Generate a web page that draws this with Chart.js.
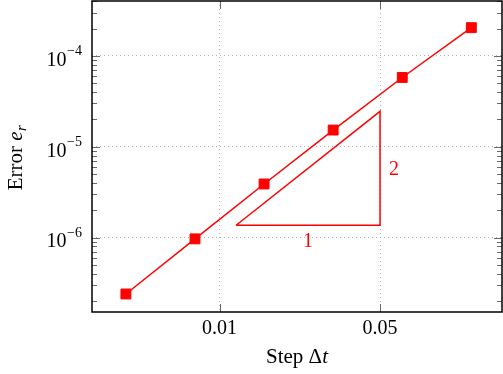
<!DOCTYPE html>
<html>
<head>
<meta charset="utf-8">
<script src="https://cdn.jsdelivr.net/npm/chart.js@4/dist/chart.umd.min.js"></script>
<style>
  html, body { margin: 0; padding: 0; background: #fff; }
  canvas { display: block; }
</style>
</head>
<body>
<canvas id="errorChart" width="503" height="374"></canvas>
<script>
// --- data ---
const stepSizes = [0.00390625, 0.0078125, 0.015625, 0.03125, 0.0625, 0.125];
const errors = [2.4e-7, 9.7e-7, 3.9e-6, 1.53e-5, 5.8e-5, 2.05e-4];

const xTicks = [0.01, 0.05];
const xTickLabels = ['0.01', '0.05'];
const yTicks = [1e-6, 1e-5, 1e-4];
const yTickExponents = ['\u22126', '\u22125', '\u22124'];

// slope triangle corners (order 2)
const slopeX = [0.0118, 0.05];
const slopeY = [1.37e-6, 2.46e-5];
const slopeLabels = ['1', '2'];

const RED = '#ff0000';
const SERIF = '"Liberation Serif", "DejaVu Serif", serif';

const xRange = [0.00278, 0.170];
const yRange = [1.52e-7, 4.03e-4];

function minorTicks(min, max) {
    const out = [];
    for (let e = Math.floor(Math.log10(min)); e <= Math.ceil(Math.log10(max)); e++) {
        for (let m = 1; m <= 9; m++) {
            const v = m * Math.pow(10, e);
            if (v >= min && v <= max) out.push({ v, major: m === 1 });
        }
    }
    return out;
}

const framePlugin = {
    id: 'frame',
    afterDraw(chart) {
        const ctx = chart.ctx;
        const a = chart.chartArea;
        const xs = chart.scales.x;
        const ys = chart.scales.y;
        ctx.save();

        // inward ticks
        ctx.strokeStyle = '#6a6a6a';
        ctx.lineWidth = 1;
        minorTicks(yRange[0], yRange[1]).forEach(t => {
            const py = Math.round(ys.getPixelForValue(t.v)) + 0.5;
            const len = t.major ? 8 : 5;
            ctx.beginPath();
            ctx.moveTo(a.left, py); ctx.lineTo(a.left + len, py);
            ctx.moveTo(a.right, py); ctx.lineTo(a.right - len, py);
            ctx.stroke();
        });
        xTicks.forEach(v => {
            const px = Math.round(xs.getPixelForValue(v)) + 0.5;
            ctx.beginPath();
            ctx.moveTo(px, a.bottom); ctx.lineTo(px, a.bottom - 8);
            ctx.moveTo(px, a.top); ctx.lineTo(px, a.top + 8);
            ctx.stroke();
        });

        // box
        ctx.strokeStyle = '#000';
        ctx.lineWidth = 1.5;
        ctx.strokeRect(a.left, a.top, a.right - a.left, a.bottom - a.top);

        // y tick labels 10^k
        ctx.fillStyle = '#000';
        ctx.textAlign = 'right';
        ctx.textBaseline = 'alphabetic';
        yTicks.forEach((v, i) => {
            const py = ys.getPixelForValue(v);
            ctx.font = '14px ' + SERIF;
            const ew = ctx.measureText(yTickExponents[i]).width;
            ctx.fillText(yTickExponents[i], 82, py - 1);
            ctx.font = '20px ' + SERIF;
            ctx.fillText('10', 82 - ew - 0.5, py + 9.7);
        });

        // x title: Step Δt
        ctx.textAlign = 'left';
        ctx.font = '21px ' + SERIF;
        const part1 = 'Step \u0394';
        const w1 = ctx.measureText(part1).width;
        ctx.font = 'italic 21px ' + SERIF;
        const w2 = ctx.measureText('t').width;
        const cx = (a.left + a.right) / 2;
        let sx = cx - (w1 + w2) / 2;
        ctx.font = '21px ' + SERIF;
        ctx.fillText(part1, sx, 363);
        ctx.font = 'italic 21px ' + SERIF;
        ctx.fillText('t', sx + w1, 363);

        // y title: Error e_r
        ctx.save();
        ctx.translate(22, 158);
        ctx.rotate(-Math.PI / 2);
        ctx.font = '21px ' + SERIF;
        const e1 = 'Error ';
        const ew1 = ctx.measureText(e1).width;
        ctx.font = 'italic 21px ' + SERIF;
        const ew2 = ctx.measureText('e').width;
        ctx.font = 'italic 15px ' + SERIF;
        const ew3 = ctx.measureText('r').width;
        let tx = -(ew1 + ew2 + ew3) / 2;
        ctx.font = '21px ' + SERIF;
        ctx.fillText(e1, tx, 0);
        ctx.font = 'italic 21px ' + SERIF;
        ctx.fillText('e', tx + ew1, 0);
        ctx.font = 'italic 15px ' + SERIF;
        ctx.fillText('r', tx + ew1 + ew2 + 0.5, 4);
        ctx.restore();

        // slope labels
        ctx.fillStyle = RED;
        ctx.font = '20px ' + SERIF;
        const midX = Math.sqrt(slopeX[0] * slopeX[1]);
        const midY = Math.sqrt(slopeY[0] * slopeY[1]);
        ctx.textAlign = 'center';
        ctx.fillText(slopeLabels[0], xs.getPixelForValue(midX), ys.getPixelForValue(slopeY[0]) + 21.7);
        ctx.textAlign = 'left';
        ctx.fillText(slopeLabels[1], xs.getPixelForValue(slopeX[1]) + 9, ys.getPixelForValue(midY) + 7);

        ctx.restore();
    }
};

const measured = stepSizes.map((x, i) => ({ x, y: errors[i] }));
const triangle = [
    { x: slopeX[0], y: slopeY[0] },
    { x: slopeX[1], y: slopeY[0] },
    { x: slopeX[1], y: slopeY[1] },
    { x: slopeX[0], y: slopeY[0] }
];

new Chart(document.getElementById('errorChart'), {
    type: 'line',
    data: {
        datasets: [{
            label: 'Error',
            data: measured,
            borderColor: RED,
            backgroundColor: RED,
            borderWidth: 1.5,
            pointStyle: 'rect',
            pointRadius: 7,
            pointBorderWidth: 1,
            pointBackgroundColor: RED,
            pointBorderColor: RED,
            tension: 0
        }, {
            label: 'slope',
            data: triangle,
            borderColor: RED,
            borderWidth: 1.5,
            borderJoinStyle: 'miter',
            pointRadius: 0,
            tension: 0
        }]
    },
    options: {
        responsive: false,
        animation: false,
        devicePixelRatio: 1,
        layout: { autoPadding: false, padding: { left: 0, top: 1, right: 1, bottom: 0 } },
        plugins: { legend: { display: false }, tooltip: { enabled: false } },
        events: [],
        scales: {
            x: {
                type: 'logarithmic',
                min: xRange[0],
                max: xRange[1],
                afterBuildTicks: s => { s.ticks = xTicks.map(v => ({ value: v })); },
                afterFit: s => { s.height = 62; },
                grid: { color: '#b0b0b0', lineWidth: 1, drawTicks: false },
                border: { display: false, dash: [1, 3] },
                ticks: {
                    autoSkip: false,
                    maxRotation: 0,
                    padding: 5,
                    color: '#000',
                    font: { family: SERIF, size: 20 },
                    callback: (v, i) => xTickLabels[i]
                }
            },
            y: {
                type: 'logarithmic',
                min: yRange[0],
                max: yRange[1],
                afterBuildTicks: s => { s.ticks = yTicks.map(v => ({ value: v })); },
                afterFit: s => { s.width = 92; },
                grid: { color: '#b0b0b0', lineWidth: 1, drawTicks: false },
                border: { display: false, dash: [1, 3] },
                ticks: { display: false }
            }
        }
    },
    plugins: [framePlugin]
});
</script>
</body>
</html>
